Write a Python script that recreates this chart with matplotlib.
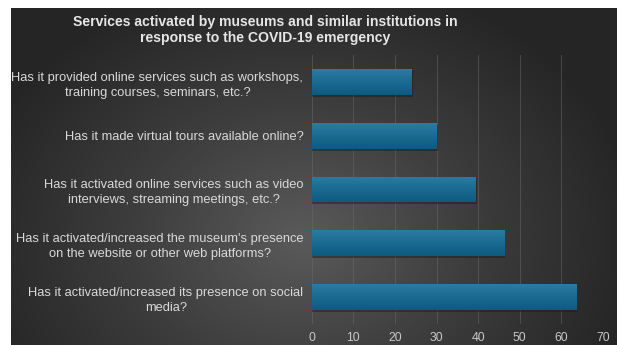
import numpy as np
import matplotlib
matplotlib.use("Agg")
import matplotlib.pyplot as plt
from matplotlib.colors import LinearSegmentedColormap

plt.rcParams['font.family'] = ['Liberation Sans', 'DejaVu Sans']

# Data
categories = [
    "Has it activated/increased its presence on social\nmedia?",
    "Has it activated/increased the museum's presence\non the website or other web platforms?",
    "Has it activated online services such as video\ninterviews, streaming meetings, etc.?",
    "Has it made virtual tours available online?",
    "Has it provided online services such as workshops,\ntraining courses, seminars, etc.?",
]
values = [63.5, 46.2, 39.3, 30.0, 23.9]
x_ticks = [0, 10, 20, 30, 40, 50, 60, 70]
title = "Services activated by museums and similar institutions in\nresponse to the COVID-19 emergency"

W, H = 617, 345
fig = plt.figure(figsize=(W / 100, H / 100), dpi=100)
fig.patch.set_facecolor("white")

# Dark panel with a radial gradient background
left_px, top_px = 11, 8
bg = fig.add_axes([left_px / W, 0, 1 - left_px / W, 1 - top_px / H])
bw, bh = W - left_px, H - top_px
yy, xx = np.mgrid[0:bh, 0:bw]
cx, cy = 290, 230
r = np.sqrt(((xx - cx) / 340.0) ** 2 + ((yy - cy) / 270.0) ** 2)
r = np.clip(r, 0, 1)
cmap_bg = LinearSegmentedColormap.from_list("bg", ["#5a5a5a", "#3d3d3d", "#252525"])
bg.imshow(r, cmap=cmap_bg, vmin=0, vmax=1, aspect="auto", extent=[0, 1, 0, 1])
bg.axis("off")

# Bar chart axes
ax_l, ax_r = 311.7, 603.0
ax_top, ax_bot = 55.2, 323.9
ax = fig.add_axes([ax_l / W, 1 - ax_bot / H, (ax_r - ax_l) / W, (ax_bot - ax_top) / H])
ax.patch.set_alpha(0)

ypos = np.arange(len(categories))
bar_h = 0.48
bars = ax.barh(ypos, values, height=bar_h, color="#16668e", zorder=3)

# Vertical gradient and soft shadow on each bar
grad = np.linspace(0, 1, 64).reshape(-1, 1)
cmap_bar = LinearSegmentedColormap.from_list("bar", ["#2b7ba3", "#1a6a92", "#0f5b80"])
for b, v in zip(bars, values):
    y0 = b.get_y()
    ax.barh(b.get_y() + bar_h / 2 - 0.035, v + 0.35, height=bar_h, color="#1a1a1a",
            alpha=0.45, zorder=2)
    im = ax.imshow(grad, cmap=cmap_bar, aspect="auto",
                   extent=[0, v, y0, y0 + bar_h], origin="upper", zorder=4)
    im.set_clip_path(b)

ax.set_xlim(0, 70)
ax.set_ylim(-0.5, len(categories) - 0.5)
ax.set_xticks(x_ticks)
ax.set_yticks(ypos)
ax.set_yticklabels(categories, multialignment="center", linespacing=1.35)
ax.tick_params(axis="y", length=0, pad=6, labelsize=9.3, labelcolor="#d9d9d9")
ax.tick_params(axis="x", length=0, pad=6, labelsize=8.8, labelcolor="#c8c8c8")
ax.grid(axis="x", color="#6a6a6a", linewidth=0.7, alpha=0.5, zorder=0)
for s in ax.spines.values():
    s.set_visible(False)

fig.text(265 / W, 1 - 30 / H, title, ha="center", va="center",
         fontsize=10.1, fontweight="bold", color="#e6e6e6", linespacing=1.15)

fig.savefig("out.png", dpi=100)
